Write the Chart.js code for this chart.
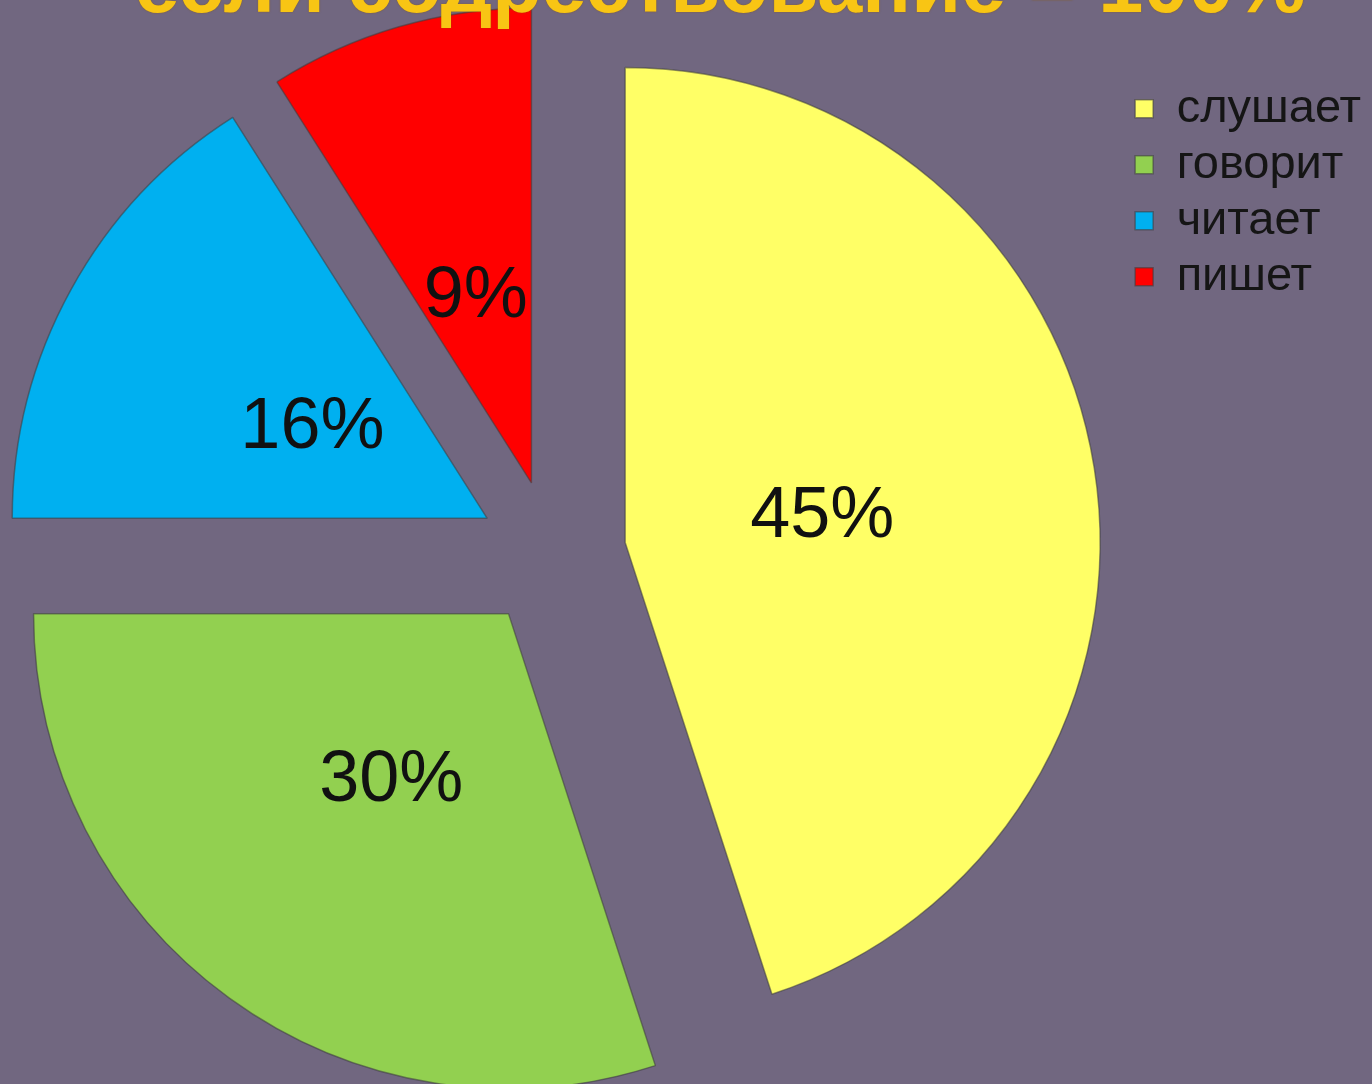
<!DOCTYPE html>
<html><head><meta charset="utf-8">
<script src="https://cdn.jsdelivr.net/npm/chart.js@4.4.1/dist/chart.umd.min.js"></script>
<style>
html,body{margin:0;padding:0;width:1372px;height:1084px;overflow:hidden;background:#716780;}
#wrap{position:absolute;left:-40px;top:0;width:1440px;height:1084px;}
#title{position:absolute;left:0;top:-56px;width:1440px;text-align:center;font:bold 81px "Liberation Sans",Arial,sans-serif;line-height:1;color:#F8C514;white-space:nowrap;z-index:2;text-shadow:0 0 2px rgba(140,90,0,.7);}
</style></head>
<body>
<div id="title">если содрествование = 100%</div>
<div id="wrap"><canvas id="c"></canvas></div>
<script>
const categories = ['слушает', 'говорит', 'читает', 'пишет'];
const shares = [45, 30, 16, 9];
const labelTexts = shares.map(v => v + '%');
const sliceColors = ['#FFFF66', '#92D050', '#00B0F0', '#FF0000'];

// Undo Chart.js' radius growth / angle shrink of exploded slices so every slice keeps the same radius and exact radial edges
const evenSlices = {
  id: 'evenSlices',
  afterUpdate(chart) {
    chart.getSortedVisibleDatasetMetas().forEach(meta => {
      const R = meta.controller.outerRadius;
      meta.data.forEach(arc => {
        const t = (arc.options.offset || 0) / 4;
        const fix = 1 - Math.sin(Math.min(Math.PI, arc.circumference));
        const radiusOffset = t * fix;
        arc.outerRadius = R - radiusOffset;
        const widen = radiusOffset / (2 * Math.PI * R);
        arc.startAngle -= widen;
        arc.endAngle += widen;
      });
    });
  }
};

const sliceLabels = {
  id: 'sliceLabels',
  afterDatasetsDraw(chart) {
    const meta = chart.getDatasetMeta(0);
    const ctx = chart.ctx;
    const R = meta.controller.outerRadius;
    const size = 72;
    ctx.save();
    ctx.font = size + 'px "Liberation Sans", Arial, sans-serif';
    ctx.fillStyle = '#111111';
    ctx.textAlign = 'center';
    ctx.textBaseline = 'alphabetic';
    meta.data.forEach((arc, i) => {
      const mid = (arc.startAngle + arc.endAngle) / 2;
      const d = (arc.options.offset || 0) / 4 + 0.42 * R;
      ctx.fillText(labelTexts[i], arc.x + Math.cos(mid) * d, arc.y + Math.sin(mid) * d + size * 0.358);
    });
    ctx.restore();
  }
};

const chart = new Chart(document.getElementById('c'), {
  type: 'pie',
  data: {
    labels: categories,
    datasets: [{
      data: shares,
      backgroundColor: sliceColors,
      borderColor: 'rgba(60,60,60,0.55)',
      borderWidth: 1.5,
      offset: 296
    }]
  },
  options: {
    responsive: true,
    maintainAspectRatio: false,
    animation: false,
    radius: 475,
    layout: { padding: { left: 18, right: 29, top: 30, bottom: 6 } },
    plugins: {
      tooltip: { enabled: false },
      title: { display: false },
      legend: {
        position: 'right',
        align: 'start',
        title: { display: true, text: ' ', font: { size: 1 }, padding: { top: 0, bottom: 45 } },
        labels: {
          font: { size: 47, family: '"Liberation Sans", Arial, sans-serif' },
          color: '#151515',
          boxWidth: 18,
          boxHeight: 18,
          padding: 9
        }
      }
    }
  },
  plugins: [evenSlices, sliceLabels]
});
</script>
</body></html>
